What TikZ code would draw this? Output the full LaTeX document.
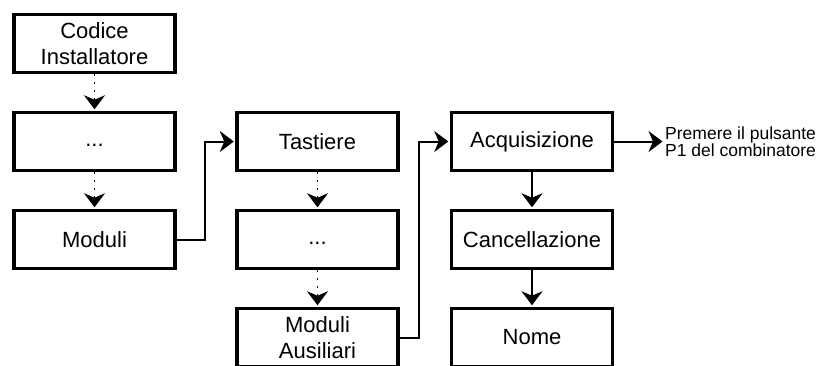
\documentclass[tikz,border=0pt]{standalone}
\usepackage{fontspec}
\setmainfont{Liberation Sans}
\usetikzlibrary{arrows.meta}

\begin{document}
\begin{tikzpicture}[x=1pt,y=-1pt,
    box/.style={draw,line width=3.5pt,minimum width=161pt,minimum height=58pt,
        inner sep=0pt,align=center,font=\fontsize{22}{26}\selectfont},
    tip/.style={-{Stealth[length=14pt,width=21pt,inset=4.5pt]},shorten >=1.5pt},
    dots/.style={tip,line width=1.5pt,dash pattern=on 2pt off 6pt},
    link/.style={tip,line width=2pt}]
    \useasboundingbox (0,0) rectangle (825,365);

    % Column 1
    \node[box] (codice) at (94.5,43.5) {Codice\\Installatore};
    \node[box] (dotsA) at (94.5,141.5) {\vphantom{Tg}...};
    \node[box] (moduli) at (94.5,239.5) {Moduli};

    % Column 2
    \node[box] (tastiere) at (317.5,141.5) {Tastiere};
    \node[box] (dotsB) at (317.5,239.5) {\vphantom{Tg}...};
    \node[box] (ausiliari) at (317.5,337.5) {Moduli\\Ausiliari};

    % Column 3
    \node[box] (acquisizione) at (532,141.5) {Acquisizione};
    \node[box] (cancellazione) at (532,239.5) {Cancellazione};
    \node[box] (nome) at (532,337.5) {Nome};

    % Note
    \node[anchor=west,inner sep=1pt,align=center,font=\fontsize{17.5}{17}\selectfont]
        (premere) at (664,141.5) {Premere il pulsante\\P1 del combinatore};

    % Dotted steps
    \draw[dots] (codice) -- (dotsA);
    \draw[dots] (dotsA) -- (moduli);
    \draw[dots] (tastiere) -- (dotsB);
    \draw[dots] (dotsB) -- (ausiliari);

    % Links between columns
    \draw[link] (moduli.east) -- ++(28,0) |- (tastiere.west);
    \draw[link] (ausiliari.east) -- ++(19,0) |- (acquisizione.west);

    % Column 3 steps
    \draw[link] (acquisizione) -- (cancellazione);
    \draw[link] (cancellazione) -- (nome);
    \draw[link] (acquisizione.east) -- (premere.west);
\end{tikzpicture}
\end{document}
